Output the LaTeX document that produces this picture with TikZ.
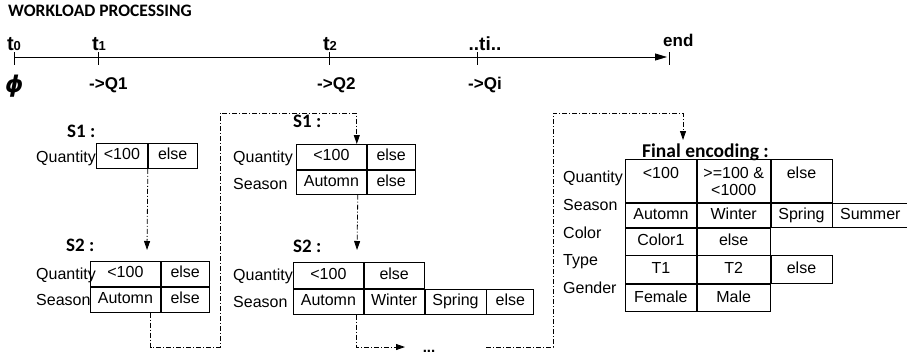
\documentclass[tikz,border=0pt]{standalone}
\usepackage{fontspec}
\setmainfont{Liberation Sans}
\newfontfamily\capfont{Carlito}
\newfontfamily\grfont{DejaVu Sans}
\usetikzlibrary{arrows.meta}

\tikzset{
  cell/.style={draw, line width=0.8pt, inner sep=0pt, anchor=north west,
    text height=11pt, text depth=3pt, font=\fontsize{16}{17}\selectfont},
  toptext/.style={anchor=north, inner sep=0pt, yshift=-8pt, align=center,
    font=\fontsize{16}{17}\selectfont},
  attr/.style={anchor=base west, inner sep=0pt, font=\fontsize{16}{17}\selectfont},
  stitle/.style={anchor=base west, inner sep=0pt,
    font=\capfont\bfseries\fontsize{19}{19}\selectfont},
  tlabel/.style={anchor=base, inner sep=0pt, font=\bfseries\fontsize{17}{17}\selectfont},
  flow/.style={line width=0.8pt, dash pattern=on 5pt off 2pt on 1pt off 2pt,
    -{Triangle[length=9pt,width=6pt]}},
}
\newcommand{\tsub}[1]{{\fontsize{20}{20}\selectfont t}{\fontsize{13}{13}\selectfont #1}}

\begin{document}
\begin{tikzpicture}[x=1pt,y=-1pt]
  \useasboundingbox (0,0) rectangle (907,354);

  % Titre
  \node[anchor=base west, inner sep=0pt, font=\capfont\bfseries\fontsize{17.5}{18}\selectfont]
    (hdr) at (8,16) {WORKLOAD PROCESSING};

  % Axe du temps
  \coordinate (t0) at (14,57);
  \coordinate (t1) at (98,57);
  \coordinate (t2) at (329,57);
  \coordinate (ti) at (477,57);
  \coordinate (tend) at (669,57);
  \draw[line width=0.8pt, -{Triangle[length=12pt,width=7pt]}] (t0) -- ([xshift=-2pt]tend);
  \foreach \p in {t0,t1,t2,ti,tend}
    \draw[line width=0.8pt] ([yshift=5pt]\p) -- ([yshift=-8pt]\p);

  \node[tlabel] (lt0) at (14,50) {\tsub{0}};
  \node[tlabel] (lt1) at (99,50) {\tsub{1}};
  \node[tlabel] (lt2) at (330,50) {\tsub{2}};
  \node[tlabel, font=\bfseries\fontsize{19}{19}\selectfont] (lti) at (485,50) {..ti..};
  \node[tlabel, anchor=base west] (lend) at (663,46) {end};

  \node[anchor=base west, inner sep=0pt, font=\grfont\bfseries\itshape\fontsize{23}{23}\selectfont]
    (phi) at (5,92) {ϕ};
  \node[tlabel, anchor=base west] (q1) at (89,89) {->Q1};
  \node[tlabel, anchor=base west] (q2) at (317,89) {->Q2};
  \node[tlabel, anchor=base west] (qi) at (468,89) {->Qi};

  % Q1 : S1 puis S2
  \node[stitle] (s1l) at (67,137) {S1 :};
  \node[attr] (lq1) at (36,162) {Quantity};
  \node[cell, minimum width=51pt, minimum height=25pt] (ls1a) at (96,143) {<100};
  \node[cell, minimum width=49pt, minimum height=25pt] (ls1b) at (ls1a.north east) {else};

  \node[stitle] (s2l) at (66,251) {S2 :};
  \node[attr] (lq2) at (36,279) {Quantity};
  \node[attr] (lse2) at (36,305) {Season};
  \node[cell, minimum width=70pt, minimum height=25pt] (ls2a) at (90,261) {<100};
  \node[cell, minimum width=48pt, minimum height=25pt] (ls2b) at (ls2a.north east) {else};
  \node[cell, minimum width=70pt, minimum height=25pt] (ls2c) at (ls2a.south west) {Automn};
  \node[cell, minimum width=48pt, minimum height=25pt] (ls2d) at (ls2c.north east) {else};

  % Q2 : S1 puis S2
  \node[stitle] (s1m) at (293,127) {S1 :};
  \node[attr] (mq1) at (233,162) {Quantity};
  \node[attr] (mse1) at (233,189) {Season};
  \node[cell, minimum width=70pt, minimum height=25pt] (ms1a) at (296,144) {<100};
  \node[cell, minimum width=48pt, minimum height=25pt] (ms1b) at (ms1a.north east) {else};
  \node[cell, minimum width=70pt, minimum height=24pt] (ms1c) at (ms1a.south west) {Automn};
  \node[cell, minimum width=48pt, minimum height=24pt] (ms1d) at (ms1c.north east) {else};

  \node[stitle] (s2m) at (293,252) {S2 :};
  \node[attr] (mq2) at (233,280) {Quantity};
  \node[attr] (mse2) at (233,307) {Season};
  \node[cell, minimum width=70pt, minimum height=26pt] (ms2a) at (293,262) {<100};
  \node[cell, minimum width=60pt, minimum height=26pt] (ms2b) at (ms2a.north east) {else};
  \node[cell, minimum width=70pt, minimum height=25pt] (ms2c) at (ms2a.south west) {Automn};
  \node[cell, minimum width=60pt, minimum height=25pt] (ms2d) at (ms2c.north east) {Winter};
  \node[cell, minimum width=61pt, minimum height=25pt] (ms2e) at (ms2d.north east) {Spring};
  \node[cell, minimum width=47pt, minimum height=25pt] (ms2f) at (ms2e.north east) {else};

  % Encodage final
  \node[stitle, font=\capfont\bfseries\fontsize{19.5}{19}\selectfont] (fin) at (642,157) {Final encoding :};
  \node[attr] (fq) at (563,182) {Quantity};
  \node[attr] (fse) at (563,210) {Season};
  \node[attr] (fco) at (563,238) {Color};
  \node[attr] (fty) at (563,265) {Type};
  \node[attr] (fge) at (563,293) {Gender};

  \node[cell, minimum width=71pt, minimum height=43pt, label={[toptext]north:{<100}}] (fe1) at (625,159) {};
  \node[cell, minimum width=73pt, minimum height=43pt, label={[toptext]north:{>=100 \&\\<1000}}] (fe2) at (fe1.north east) {};
  \node[cell, minimum width=61pt, minimum height=43pt, label={[toptext]north:{else}}] (fe3) at (fe2.north east) {};

  \node[cell, minimum width=71pt, minimum height=24pt] (fs1) at (fe1.south west) {Automn};
  \node[cell, minimum width=73pt, minimum height=24pt] (fs2) at (fs1.north east) {Winter};
  \node[cell, minimum width=61pt, minimum height=24pt] (fs3) at (fs2.north east) {Spring};
  \node[cell, minimum width=75pt, minimum height=24pt] (fs4) at (fs3.north east) {Summer};

  \node[cell, minimum width=71pt, minimum height=27pt] (fc1) at (fs1.south west) {Color1};
  \node[cell, minimum width=73pt, minimum height=27pt] (fc2) at (fc1.north east) {else};

  \node[cell, minimum width=71pt, minimum height=28pt] (ft1) at (fc1.south west) {T1};
  \node[cell, minimum width=73pt, minimum height=28pt] (ft2) at (ft1.north east) {T2};
  \node[cell, minimum width=61pt, minimum height=28pt] (ft3) at (ft2.north east) {else};

  \node[cell, minimum width=71pt, minimum height=27pt] (fg1) at (ft1.south west) {Female};
  \node[cell, minimum width=73pt, minimum height=27pt] (fg2) at (fg1.north east) {Male};

  % Enchainements
  \coordinate (a1) at (147,250);
  \coordinate (lp1) at (220,347);
  \coordinate (lp2) at (220,113);
  \coordinate (m2) at (357,250);
  \coordinate (r0) at (405,347);
  \coordinate (r1) at (486,347);
  \coordinate (r2) at (553,347);
  \coordinate (r3) at (553,113);
  \coordinate (r4) at (683,140);

  \draw[flow] (ls1a.south east) -- (a1);
  \draw[flow] ([xshift=-10pt]ls2c.south east) |- (lp1) -- (lp2) -| ([xshift=-10pt]ms1a.north east);
  \draw[flow] ([xshift=-9pt]ms1c.south east) -- (m2);
  \draw[flow] ([xshift=-7pt]ms2c.south east) |- (r0);
  \node[anchor=base, inner sep=0pt, font=\bfseries\fontsize{15}{15}\selectfont] (dots) at (429,352) {...};
  \draw[flow] (r1) -- (r2) -- (r3) -| (r4);
\end{tikzpicture}
\end{document}
